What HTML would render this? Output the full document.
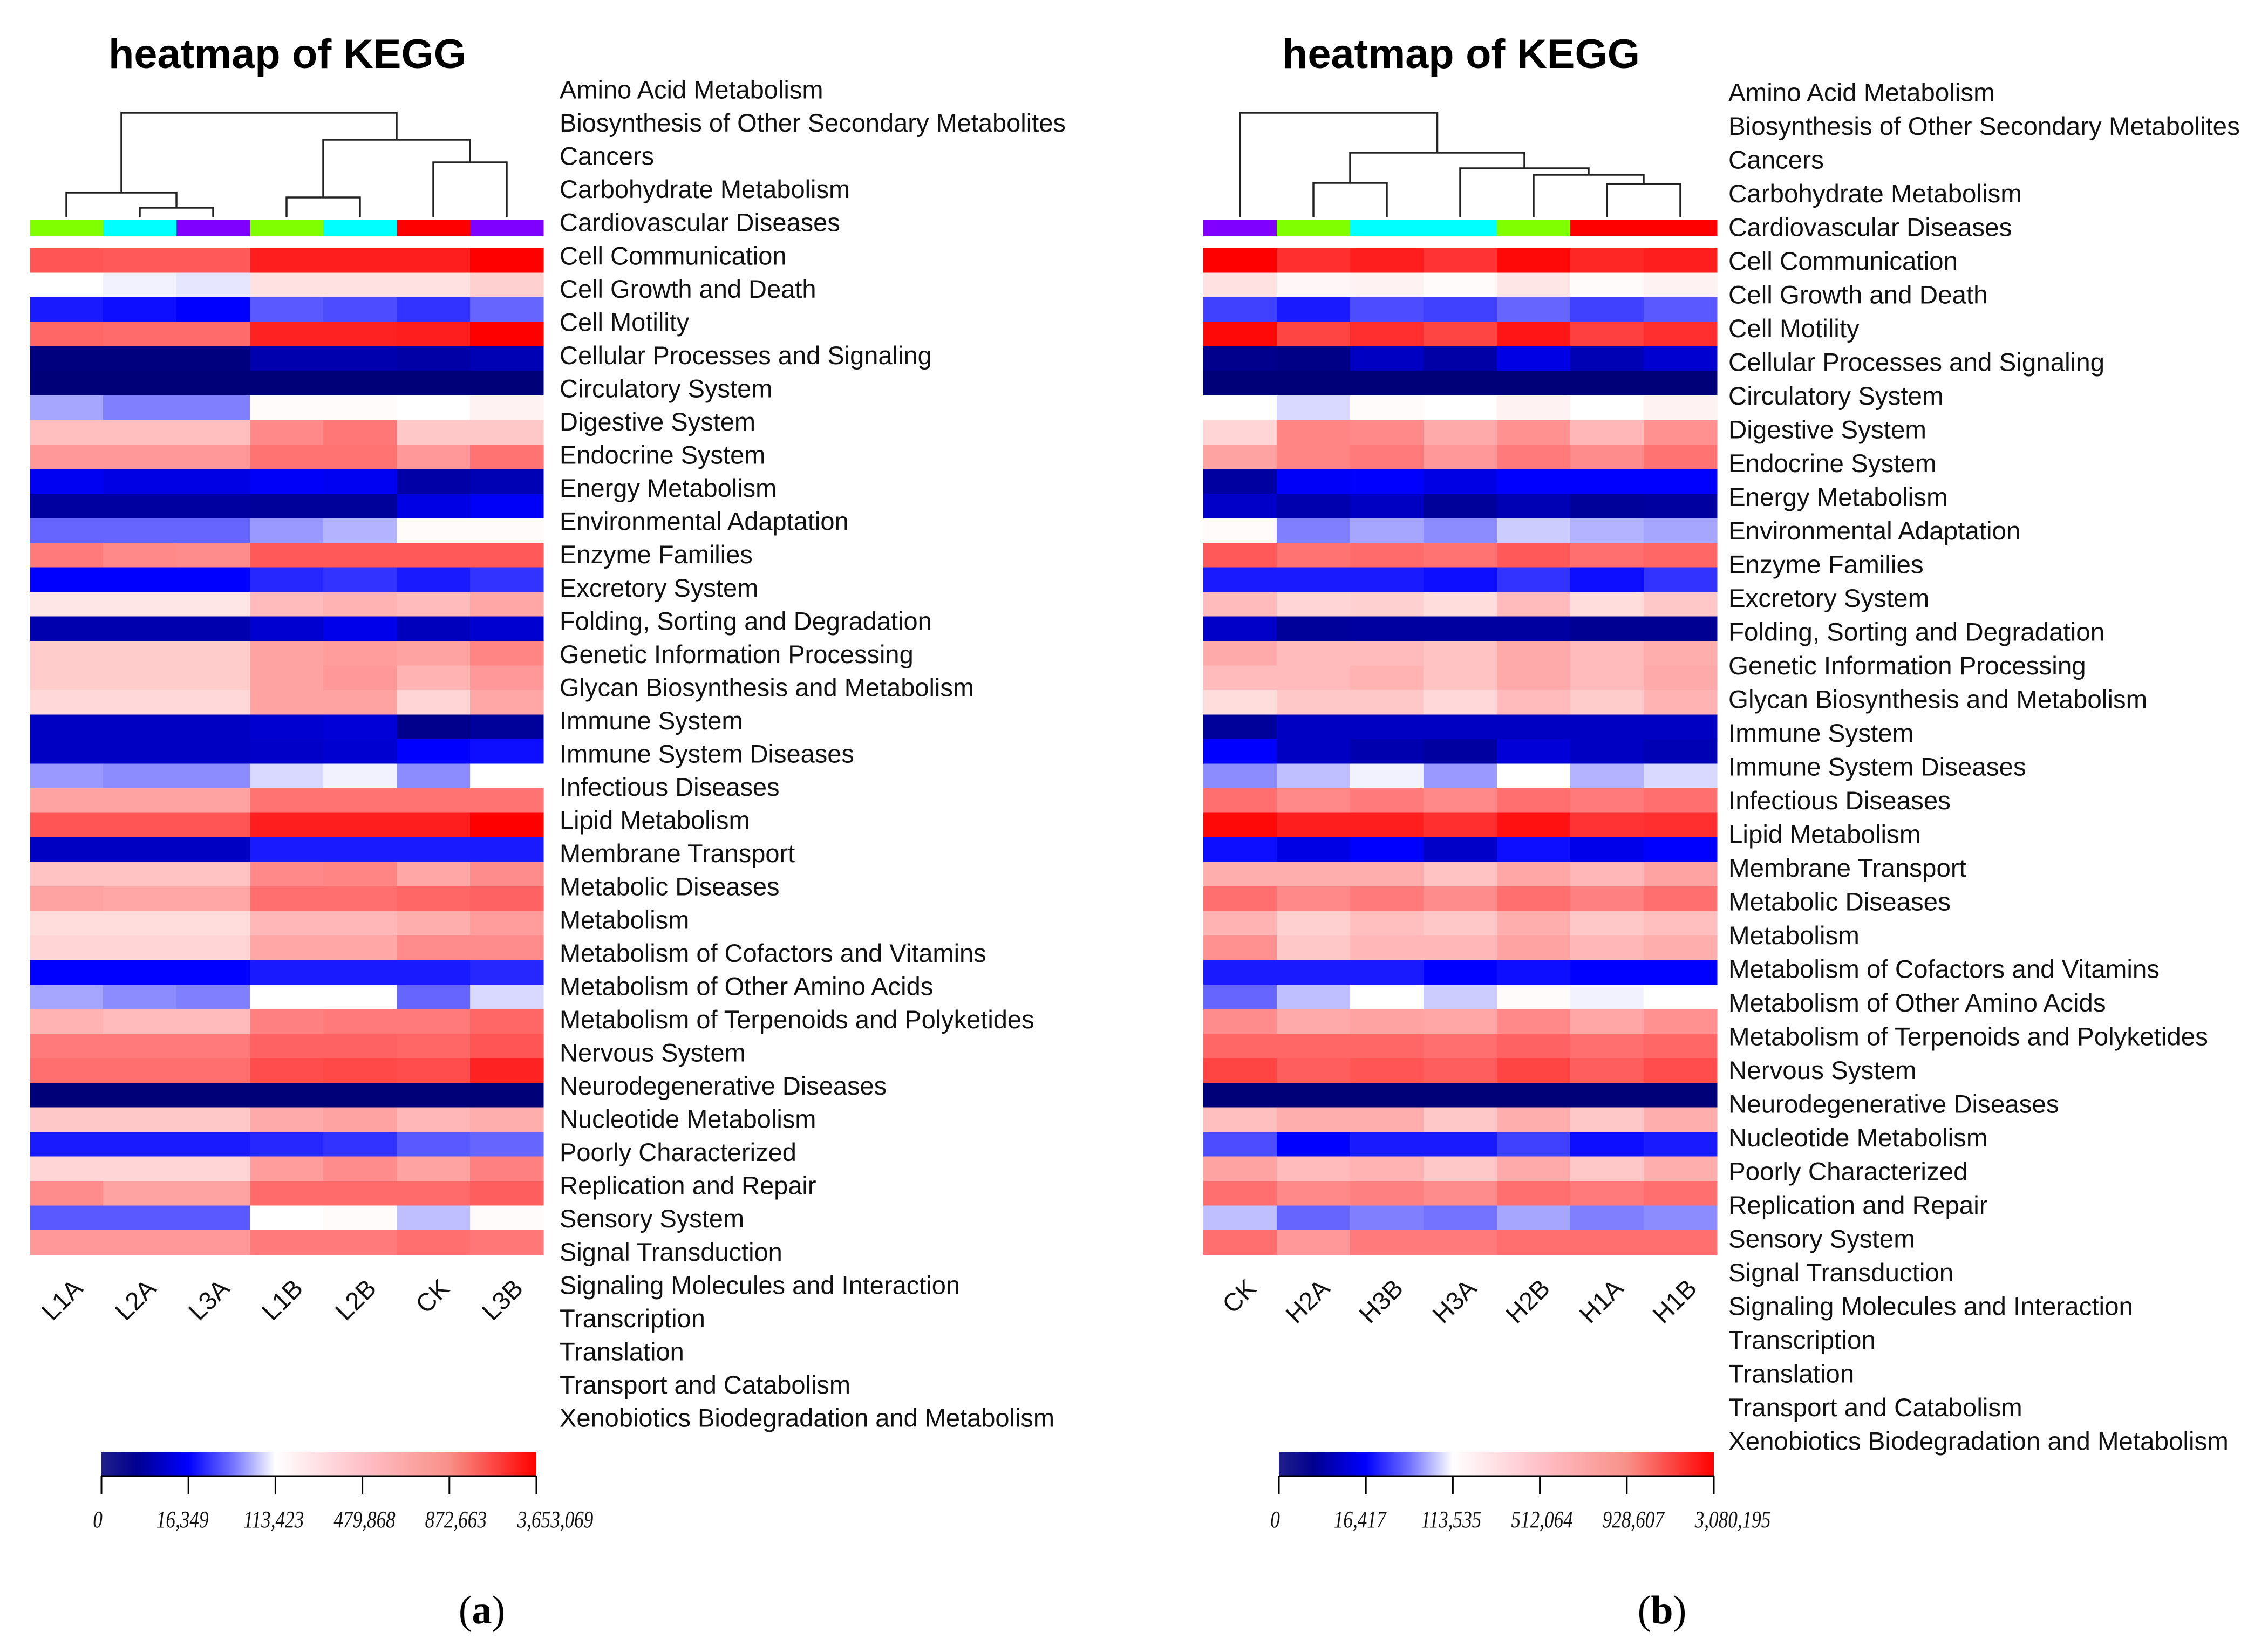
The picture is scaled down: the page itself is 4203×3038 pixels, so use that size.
<!DOCTYPE html>
<html><head><meta charset="utf-8"><title>heatmap of KEGG</title>
<style>
html,body{margin:0;padding:0;background:#fff;}
svg{display:block;}
</style></head>
<body>
<svg id="fig" xmlns="http://www.w3.org/2000/svg" width="4203" height="3038" viewBox="0 0 4203 3038">
<defs>
<linearGradient id="cbar" x1="0" x2="1" y1="0" y2="0">
<stop offset="0" stop-color="#20208a"/>
<stop offset="0.08" stop-color="#000090"/>
<stop offset="0.2" stop-color="#0000ff"/>
<stop offset="0.3" stop-color="#7070ff"/>
<stop offset="0.4" stop-color="#ffffff"/>
<stop offset="0.6" stop-color="#ffc0c8"/>
<stop offset="0.8" stop-color="#f89088"/>
<stop offset="1" stop-color="#ff0000"/>
</linearGradient>
</defs>
<g id="panelA"></g>
<g id="panelB"></g>
</svg>
<script>
const rowLabels = ["Amino Acid Metabolism","Biosynthesis of Other Secondary Metabolites","Cancers","Carbohydrate Metabolism","Cardiovascular Diseases","Cell Communication","Cell Growth and Death","Cell Motility","Cellular Processes and Signaling","Circulatory System","Digestive System","Endocrine System","Energy Metabolism","Environmental Adaptation","Enzyme Families","Excretory System","Folding, Sorting and Degradation","Genetic Information Processing","Glycan Biosynthesis and Metabolism","Immune System","Immune System Diseases","Infectious Diseases","Lipid Metabolism","Membrane Transport","Metabolic Diseases","Metabolism","Metabolism of Cofactors and Vitamins","Metabolism of Other Amino Acids","Metabolism of Terpenoids and Polyketides","Nervous System","Neurodegenerative Diseases","Nucleotide Metabolism","Poorly Characterized","Replication and Repair","Sensory System","Signal Transduction","Signaling Molecules and Interaction","Transcription","Translation","Transport and Catabolism","Xenobiotics Biodegradation and Metabolism"];
const colsA = ["L1A","L2A","L3A","L1B","L2B","CK","L3B"];
const colsB = ["CK","H2A","H3B","H3A","H2B","H1A","H1B"];
const groupColorsA = ["#80ff00","#00ffff","#8000ff","#80ff00","#00ffff","#ff0000","#8000ff"];
const groupColorsB = ["#8000ff","#80ff00","#00ffff","#00ffff","#80ff00","#ff0000","#ff0000"];
const ticksA = ["0","16,349","113,423","479,868","872,663","3,653,069"];
const ticksB = ["0","16,417","113,535","512,064","928,607","3,080,195"];
// color-scale score (0 = darkest blue, 40 = white, 100 = red)
const valuesA = [
[80,79,79,93,93,93,100],[40,39,38,47,47,47,51],[22,21,20,27,26,24,28],[76,75,75,92,92,93,100],
[1,1,1,8,8,7,9],[0,0,0,0,0,0,0],[33,30,30,41,41,40,43],[55,55,55,68,72,53,53],
[64,64,64,73,73,64,73],[18,16,16,19,18,7,9],[6,6,6,5,5,16,19],[28,28,28,32,34,41,41],
[71,68,67,79,79,79,79],[20,20,20,23,24,22,24],[46,46,46,56,58,56,61],[8,8,8,13,17,10,13],
[52,52,52,62,63,62,69],[52,52,52,62,64,58,64],[49,49,49,62,62,50,61],[11,11,11,13,14,3,5],
[11,11,11,12,13,20,21],[32,31,31,37,39,31,40],[62,62,62,73,73,73,73],[80,80,80,93,93,93,100],
[11,11,11,22,22,22,22],[54,54,54,68,69,61,67],[62,61,61,74,74,76,77],[48,48,48,57,57,59,63],
[50,50,50,61,61,67,67],[20,20,20,22,22,22,23],[33,31,30,40,40,28,37],[58,56,56,70,71,71,76],
[71,71,71,77,77,76,80],[74,74,74,82,83,82,92],[0,0,0,0,0,0,0],[53,53,53,60,62,57,59],
[22,22,22,23,24,27,28],[50,50,50,63,67,62,70],[67,62,62,75,75,75,78],[27,27,27,40,41,35,41],
[64,64,64,71,71,74,72]];
const valuesB = [
[100,89,93,88,98,91,93],[47,42,43,41,46,41,43],[25,22,26,25,28,25,27],[98,84,89,84,95,85,89],
[3,2,11,7,16,9,13],[0,0,0,0,0,0,0],[40,37,41,40,43,40,43],[50,69,68,60,66,57,66],
[62,69,71,64,71,67,73],[6,19,20,16,20,20,20],[12,8,11,5,9,5,6],[41,30,33,31,36,34,33],
[79,73,75,73,79,74,76],[22,22,22,21,24,21,24],[56,50,51,48,56,48,53],[12,5,6,6,6,4,4],
[60,56,56,54,60,56,59],[56,56,58,54,60,56,60],[48,53,53,49,56,52,58],[5,11,11,11,11,11,11],
[20,11,8,6,14,11,9],[31,35,39,32,40,34,37],[74,68,71,68,74,71,74],[98,93,93,89,96,88,89],
[21,16,20,12,21,17,20],[59,59,59,54,61,57,62],[74,68,71,67,74,70,74],[58,51,55,53,59,53,55],
[66,53,57,57,62,57,59],[22,22,22,20,21,20,20],[28,35,40,36,41,39,40],[67,60,62,61,68,61,66],
[76,76,76,74,77,74,76],[84,78,80,78,84,78,82],[0,0,0,0,0,0,0],[55,59,59,53,59,53,59],
[26,20,22,22,25,21,22],[62,56,58,53,60,53,59],[74,68,70,67,74,71,74],[35,28,30,29,33,30,31],
[74,64,71,71,74,74,74]];
// dendrogram merges: [childA, childB, joinY]; leaves 0..6, merged nodes numbered from 7
const mergesA = [[1,2,385],[0,7,357],[3,4,366],[5,6,301],[9,10,259],[8,11,209]];
const mergesB = [[1,2,339],[5,6,341],[4,8,324],[3,9,312],[7,10,283],[0,11,209]];

const NS = "http://www.w3.org/2000/svg";
function mk(parent, tag, attrs) {
  const e = document.createElementNS(NS, tag);
  for (const k in attrs) e.setAttribute(k, attrs[k]);
  parent.appendChild(e);
  return e;
}
function scoreColor(s) {
  s = Math.max(0, Math.min(100, s));
  let r, g, b;
  if (s <= 20) { r = 0; g = 0; b = 120 + 135 * s / 20; }
  else if (s <= 40) { r = g = 255 * (s - 20) / 20; b = 255; }
  else { r = 255; g = b = 255 * (1 - (s - 40) / 60); }
  return "rgb(" + Math.round(r) + "," + Math.round(g) + "," + Math.round(b) + ")";
}

function drawPanel(g, cfg) {
  const x0 = cfg.x0, cw = 136, top = 460, rh = 45.5;
  const xScale = i => x0 + i * cw;
  const yScale = r => top + r * rh;
  const t = mk(g, "text", {x: x0 + 146, y: 126, "font-family": "Liberation Sans, Arial, sans-serif", "font-weight": "bold", "font-size": 76, textLength: 663, lengthAdjust: "spacingAndGlyphs", fill: "#000"});
  t.textContent = "heatmap of KEGG";
  
  
  const dg = mk(g, "g", {stroke: "#222", "stroke-width": 3.5, fill: "none"});
  
  
  const nx = [], ny = [];
  for (let i = 0; i < 7; i++) { nx.push(xScale(i) + cw / 2); ny.push(402); }
  cfg.merges.forEach(m => {
    const [a, b, y] = m;
    const p = mk(dg, "path", {d: "M" + nx[a] + "," + ny[a] + "V" + y + "H" + nx[b] + "V" + ny[b]});
    
    
    nx.push((nx[a] + nx[b]) / 2); ny.push(y);
  });
  cfg.groups.forEach((c, i) => {
    const r = mk(g, "rect", {x: xScale(i), y: 408, width: cw + 0.5, height: 30, fill: c});
    
    
  });
  const cg = mk(g, "g", {});
  
  
  cfg.values.forEach((row, ri) => {
    row.forEach((v, ci) => {
      const r = mk(cg, "rect", {x: xScale(ci), y: yScale(ri), width: cw + 0.5, height: rh + 0.5, fill: scoreColor(v)});
      
      
    });
  });
  rowLabels.forEach((lab, i) => {
    const tx = mk(g, "text", {x: cfg.labelX, y: cfg.labelY0 + i * cfg.labelStep, "dominant-baseline": "central", "font-family": "Liberation Sans, Arial, sans-serif", "font-size": cfg.labelSize, fill: "#111"});
    tx.textContent = lab;
    
    
  });
  cfg.cols.forEach((c, i) => {
    const cx = xScale(i) + cw / 2 + 33, cy = 2391;
    const tx = mk(g, "text", {x: cx, y: cy, "text-anchor": "end", transform: "rotate(-45 " + cx + " " + cy + ")", "font-family": "Liberation Sans, Arial, sans-serif", "font-size": 47, fill: "#111"});
    tx.textContent = c;
    
    
  });
  const kx = cfg.keyX, kw = 806;
  const kr = mk(g, "rect", {x: kx, y: 2691, width: kw, height: 44, fill: "url(#cbar)"});
  
  
  const kl = mk(g, "line", {x1: kx, x2: kx + kw, y1: 2736, y2: 2736, stroke: "#000", "stroke-width": 3});
  
  
  const offs = [-7, -11, -3, 4, 12, 35];
  cfg.ticks.forEach((tk, i) => {
    const tx0 = kx + i * kw / 5;
    const ln = mk(g, "line", {x1: tx0, x2: tx0, y1: 2735, y2: 2769, stroke: "#000", "stroke-width": 3});
    
    
    const tl = mk(g, "text", {x: 0, y: 0, transform: "translate(" + (tx0 + offs[i]) + ",2831) scale(0.8,1)", "text-anchor": "middle", "font-family": "Liberation Serif, Times New Roman, serif", "font-style": "italic", "font-size": 44, fill: "#111"});
    tl.textContent = tk;
    
    
  });
  const cap = mk(g, "text", {x: cfg.capX, y: 3009, "text-anchor": "middle", "font-family": "Liberation Serif, Times New Roman, serif", "font-size": 74, fill: "#000"});
  cap.innerHTML = '(<tspan font-weight="bold">' + cfg.cap + '</tspan>)';
  
  
}

drawPanel(document.getElementById("panelA"), {x0: 55, cols: colsA, groups: groupColorsA, values: valuesA, merges: mergesA, ticks: ticksA, labelX: 1037, labelY0: 166, labelStep: 61.55, labelSize: 47, keyX: 188, capX: 893, cap: "a"});
drawPanel(document.getElementById("panelB"), {x0: 2230, cols: colsB, groups: groupColorsB, values: valuesB, merges: mergesB, ticks: ticksB, labelX: 3203, labelY0: 172, labelStep: 62.5, labelSize: 47.5, keyX: 2370, capX: 3080, cap: "b"});
</script>
</body></html>
